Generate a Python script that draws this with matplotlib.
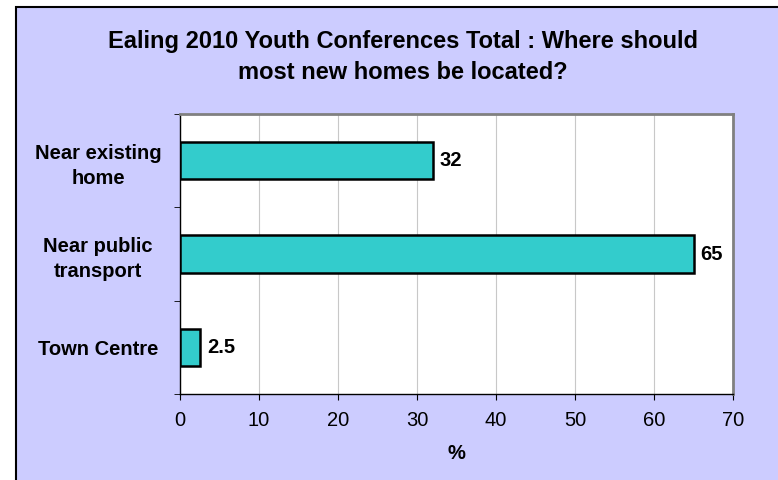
import matplotlib.pyplot as plt
from matplotlib.patches import Rectangle

plt.rcParams['font.family'] = ['Liberation Sans', 'DejaVu Sans']

# categories listed from top to bottom
categorias = ["Near existing\nhome", "Near public\ntransport", "Town Centre"]
valores = [32, 65, 2.5]
etiquetas = ["32", "65", "2.5"]
ticks_x = [0, 10, 20, 30, 40, 50, 60, 70]

W, H = 778, 480
fig = plt.figure(figsize=(W / 100, H / 100), dpi=100)
fig.patch.set_facecolor("white")

# chart area (lavender panel with black border, runs off the right/bottom edge)
fig.patches.append(Rectangle((16 / W, -0.1), 1.2, (H - 7) / H + 0.1,
                             transform=fig.transFigure, facecolor="#CCCCFF",
                             edgecolor="black", linewidth=1.5, zorder=-10))

ax = fig.add_axes([180 / W, 1 - 394 / H, (733 - 180) / W, (394 - 114) / H])
ax.set_facecolor("white")

pos = list(range(len(categorias)))[::-1]
ax.barh(pos, valores, height=0.4, color="#33CCCC", edgecolor="black",
        linewidth=1.8, zorder=3)
for p, v, t in zip(pos, valores, etiquetas):
    ax.text(v + 0.9, p, t, va="center", ha="left", fontsize=14.5,
            fontweight="bold")

ax.set_xlim(0, 70)
ax.set_ylim(-0.5, 2.5)
ax.set_xticks(ticks_x)
ax.set_xticklabels([str(t) for t in ticks_x], fontsize=14.5)
ax.xaxis.grid(True, color="#C8C8C8", linewidth=0.8, zorder=0)
ax.set_axisbelow(True)

# category labels centred, tick marks at the category boundaries
ax.set_yticks(pos)
ax.set_yticklabels(categorias, fontsize=14.5, fontweight="bold",
                   ha="center", linespacing=1.42)
ax.tick_params(axis="y", which="major", length=0, pad=59)
ax.set_yticks([-0.5, 0.5, 1.5, 2.5], minor=True)
ax.tick_params(axis="y", which="minor", length=4.5, direction="out")
ax.tick_params(axis="x", length=4.5, direction="out", pad=8)

for s in ["top", "right"]:
    ax.spines[s].set_color("#808080")
    ax.spines[s].set_linewidth(2)
for s in ["left", "bottom"]:
    ax.spines[s].set_color("black")
    ax.spines[s].set_linewidth(1)

ax.set_xlabel("%", fontsize=14.5, fontweight="bold", labelpad=10)

fig.text(403 / W, 1 - 57 / H,
         "Ealing 2010 Youth Conferences Total : Where should\nmost new homes be located?",
         ha="center", va="center", fontsize=17, fontweight="bold",
         linespacing=1.46)

fig.savefig("out.png", dpi=100)
